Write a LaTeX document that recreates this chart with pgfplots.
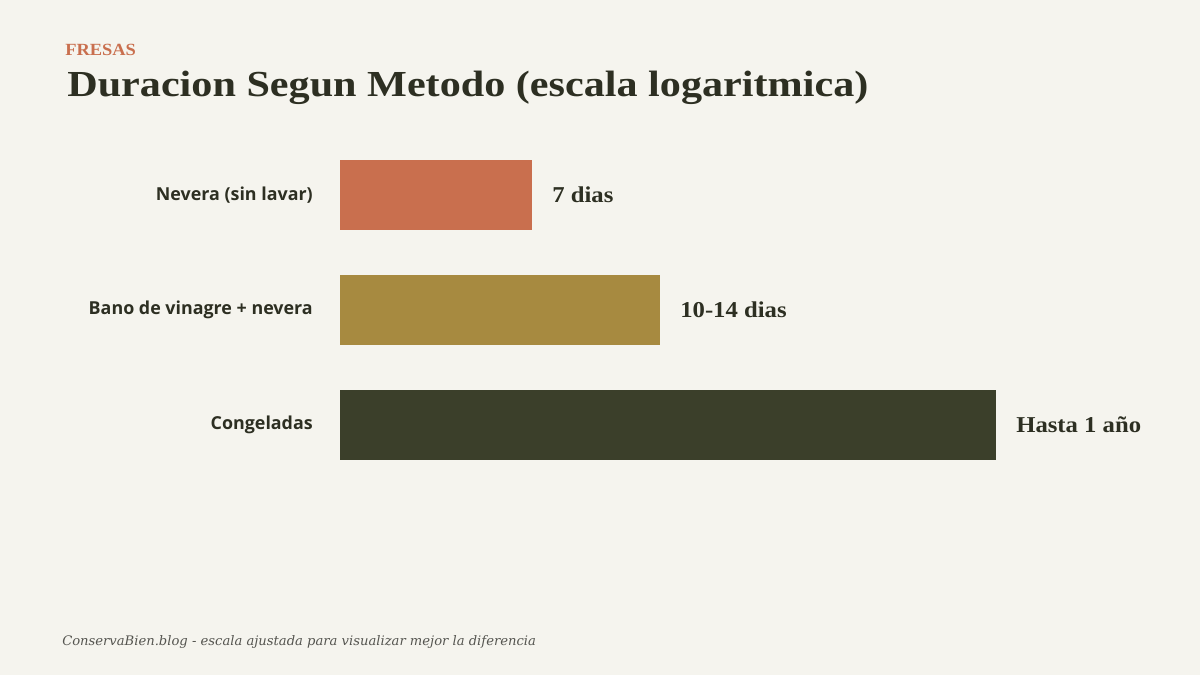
\documentclass[border=0pt]{standalone}
\usepackage{pgfplots}
\pgfplotsset{compat=1.18}
\usepackage{fontspec}
\setmainfont{Liberation Serif}
\newfontfamily\labelfont{Open Sans}
\newfontfamily\notefont{DejaVu Serif}

\definecolor{bgcol}{HTML}{F5F4EE}
\definecolor{inkcol}{HTML}{2D2F22}
\definecolor{rust}{HTML}{C96F4E}
\definecolor{ochre}{HTML}{A78A40}
\definecolor{olive}{HTML}{3B3F2A}
\definecolor{notecol}{HTML}{555550}

% 1 px of the reference = 0.75pt; y measured from the top
\newcommand{\px}[1]{#1*0.75pt}
\newcommand{\py}[1]{506.25pt-#1*0.75pt}

\begin{document}
\begin{tikzpicture}
\fill[bgcol] (0,0) rectangle (\px{1200},\py{0});

\node[anchor=base west, inner sep=0pt, xscale=1.08, text=rust, font=\bfseries\fontsize{12.8}{14}\selectfont]
  at (\px{65},\py{56}) {FRESAS};
\node[anchor=base west, inner sep=0pt, xscale=1.15, text=inkcol, font=\bfseries\fontsize{27.5}{32}\selectfont]
  at (\px{67},\py{97}) {Duracion Segun Metodo (escala logaritmica)};

\begin{axis}[
  at={(\px{340},\py{137.5})}, anchor=north west,
  scale only axis, width=\px{656}, height=\px{345},
  xmin=0, xmax=102.5, ymin=-0.5, ymax=2.5, y dir=reverse,
  axis line style={draw=none}, major tick length=0pt,
  xtick=\empty, ytick={0,1,2},
  yticklabels={Nevera (sin lavar), Bano de vinagre + nevera, Congeladas},
  yticklabel style={font=\labelfont\bfseries\fontsize{13.4}{15}\selectfont, text=inkcol,
    anchor=east, inner sep=0pt, xshift=-\px{27}},
  xbar, bar width=\px{70}, bar shift=0pt,
  point meta=explicit symbolic,
  nodes near coords,
  nodes near coords style={anchor=west, xshift=\px{20}, xscale=1.09, inner sep=0pt, text=inkcol,
    font=\bfseries\fontsize{17}{20}\selectfont},
  clip=false,
]
\addplot[draw=none, fill=rust] coordinates {(30,0) [7 dias]};
\addplot[draw=none, fill=ochre] coordinates {(50,1) [10-14 dias]};
\addplot[draw=none, fill=olive] coordinates {(102.5,2) [Hasta 1 año]};
\end{axis}

\node[anchor=base west, inner sep=0pt, text=notecol, font=\notefont\itshape\fontsize{9.85}{12}\selectfont]
  at (\px{62},\py{645}) {ConservaBien.blog - escala ajustada para visualizar mejor la diferencia};
\end{tikzpicture}
\end{document}
